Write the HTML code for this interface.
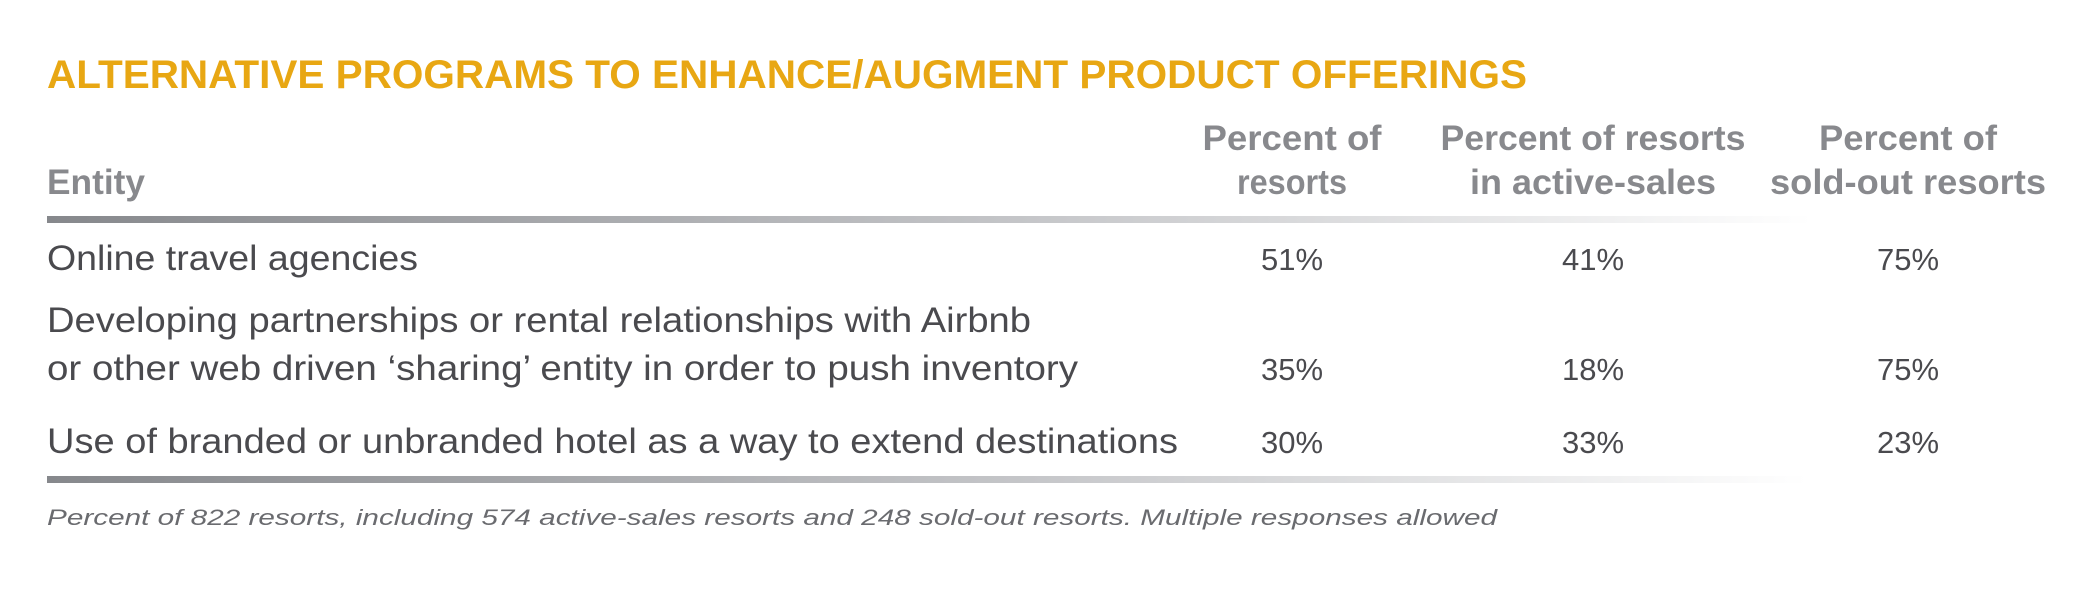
<!DOCTYPE html>
<html><head><meta charset="utf-8"><style>
html,body{margin:0;padding:0;background:#fff;width:2100px;height:600px;overflow:hidden}
svg{display:block}
text{font-family:"Liberation Sans",sans-serif}
.h{fill:#88898d;font-size:35px;font-weight:bold}
.b{fill:#4a4a4e;font-size:35px}
.p{fill:#4a4a4e;font-size:31px}
</style></head><body>
<svg width="2100" height="600" viewBox="0 0 2100 600">
<defs>
<linearGradient id="g" x1="0" x2="1" y1="0" y2="0">
<stop offset="0" stop-color="#86888c"/><stop offset="0.55" stop-color="#c4c5c8"/><stop offset="1" stop-color="#ffffff"/>
</linearGradient>
</defs>
<text x="47" y="88" font-size="40" font-weight="bold" fill="#e8a713" textLength="1480" lengthAdjust="spacingAndGlyphs">ALTERNATIVE PROGRAMS TO ENHANCE/AUGMENT PRODUCT OFFERINGS</text>
<text class="h" x="47" y="194" textLength="98" lengthAdjust="spacingAndGlyphs">Entity</text>
<text class="h" x="1292" y="150" text-anchor="middle" textLength="179" lengthAdjust="spacingAndGlyphs">Percent of</text>
<text class="h" x="1292" y="194" text-anchor="middle" textLength="110" lengthAdjust="spacingAndGlyphs">resorts</text>
<text class="h" x="1593" y="150" text-anchor="middle" textLength="305" lengthAdjust="spacingAndGlyphs">Percent of resorts</text>
<text class="h" x="1593" y="194" text-anchor="middle" textLength="246" lengthAdjust="spacingAndGlyphs">in active-sales</text>
<text class="h" x="1908" y="150" text-anchor="middle" textLength="178" lengthAdjust="spacingAndGlyphs">Percent of</text>
<text class="h" x="1908" y="194" text-anchor="middle" textLength="276" lengthAdjust="spacingAndGlyphs">sold-out resorts</text>
<rect x="47" y="216" width="1765" height="7" fill="url(#g)"/>
<text class="b" x="47" y="270" textLength="371" lengthAdjust="spacingAndGlyphs">Online travel agencies</text>
<text class="b" x="47" y="332" textLength="984" lengthAdjust="spacingAndGlyphs">Developing partnerships or rental relationships with Airbnb</text>
<text class="b" x="47" y="380" textLength="1031" lengthAdjust="spacingAndGlyphs">or other web driven ‘sharing’ entity in order to push inventory</text>
<text class="b" x="47" y="453" textLength="1131" lengthAdjust="spacingAndGlyphs">Use of branded or unbranded hotel as a way to extend destinations</text>
<g class="p" text-anchor="middle">
<text x="1292" y="270">51%</text><text x="1593" y="270">41%</text><text x="1908" y="270">75%</text>
<text x="1292" y="380">35%</text><text x="1593" y="380">18%</text><text x="1908" y="380">75%</text>
<text x="1292" y="453">30%</text><text x="1593" y="453">33%</text><text x="1908" y="453">23%</text>
</g>
<rect x="47" y="476" width="1760" height="7" fill="url(#g)"/>
<text x="47" y="525" font-size="22" font-style="italic" fill="#6a6b6f" textLength="1450" lengthAdjust="spacingAndGlyphs">Percent of 822 resorts, including 574 active-sales resorts and 248 sold-out resorts. Multiple responses allowed</text>
</svg>
</body></html>
